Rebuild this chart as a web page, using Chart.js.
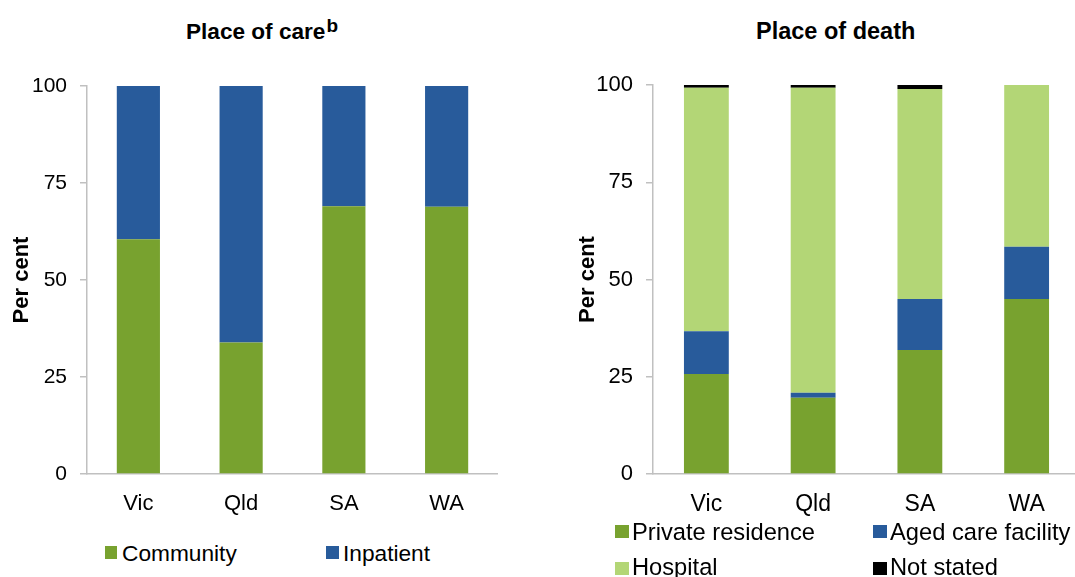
<!DOCTYPE html>
<html>
<head>
<meta charset="utf-8">
<script src="https://cdn.jsdelivr.net/npm/chart.js@4.4.1/dist/chart.umd.min.js"></script>
<style>
  html, body { margin:0; padding:0; background:#fff; }
  body { width:1075px; height:577px; overflow:hidden; position:relative; font-family:"Liberation Sans", Arial, sans-serif; color:#000; }
  canvas { position:absolute; }
  .title { position:absolute; font-weight:bold; line-height:1; white-space:nowrap; }
  .title sup { font-size:19px; position:relative; top:-7px; vertical-align:baseline; margin-left:1px; }
  .sw { position:absolute; }
  .lt { position:absolute; line-height:1; white-space:nowrap; }
</style>
</head>
<body>
<div class="title" id="t1" style="left:186px; top:21px; font-size:22.6px;">Place of care<sup>b</sup></div>
<div class="title" id="t2" style="left:756px; top:20px; font-size:23.5px;">Place of death</div>
<canvas id="c1" width="498" height="524" style="left:0; top:0; width:498px; height:524px;"></canvas>
<canvas id="c2" width="514" height="524" style="left:566px; top:0; width:514px; height:524px;"></canvas>
<div id="legends"></div>
<script>
const categories = ['Vic', 'Qld', 'SA', 'WA'];
const yTickValues = [0, 25, 50, 75, 100];

// Place of care (per cent)
const careCommunity = [60.5, 33.9, 69.0, 68.9];
const careInpatient = [39.5, 66.1, 31.0, 31.1];

// Place of death (per cent)
const deathPrivate   = [25.7, 19.6, 31.9, 45.0];
const deathAged      = [11.0, 1.3, 13.1, 13.4];
const deathHospital  = [62.6, 78.4, 54.0, 41.6];
const deathNotStated = [0.7, 0.7, 1.0, 0];

const careLabels  = ['Community', 'Inpatient'];
const deathLabels = ['Private residence', 'Aged care facility', 'Hospital', 'Not stated'];

const GREEN = '#78A22F', BLUE = '#285B9B', LIGHT = '#B3D676', BLACK = '#000000';
const FONT = '"Liberation Sans", Arial, sans-serif';
const AXIS = '#c0c0c0';

function makeOptions(tickSize, xSize, top) {
  return {
    responsive: false,
    animation: false,
    maintainAspectRatio: false,
    layout: { padding: { top: top, left: 0, right: 0, bottom: 0 } },
    plugins: { legend: { display: false }, tooltip: { enabled: false }, title: { display: false } },
    datasets: { bar: { categoryPercentage: 1.0, barPercentage: 0.42, borderWidth: 0 } },
    scales: {
      x: {
        stacked: true,
        grid: { display: false, drawTicks: false },
        border: { display: true, color: AXIS, width: 1.5 },
        ticks: { color: '#000', padding: 17, font: { family: FONT, size: xSize } },
        afterFit: s => { s.height = 50; }
      },
      y: {
        stacked: true, min: 0, max: 100,
        afterBuildTicks: s => { s.ticks = yTickValues.map(v => ({ value: v })); },
        grid: { drawOnChartArea: false, tickLength: 7, color: AXIS, lineWidth: 1.5 },
        border: { display: true, color: AXIS, width: 1.5 },
        ticks: { color: '#000', padding: 13, font: { family: FONT, size: tickSize } },
        title: { display: true, text: 'Per cent', color: '#000', padding: { top: 9, bottom: 0 },
                 font: { family: FONT, size: 22, weight: 'bold' } },
        afterFit: s => { s.width = 87; }
      }
    }
  };
}

new Chart(document.getElementById('c1'), {
  type: 'bar',
  data: {
    labels: categories,
    datasets: [
      { label: careLabels[0], data: careCommunity, backgroundColor: GREEN },
      { label: careLabels[1], data: careInpatient, backgroundColor: BLUE }
    ]
  },
  options: makeOptions(21, 22, 86)
});

new Chart(document.getElementById('c2'), {
  type: 'bar',
  data: {
    labels: categories,
    datasets: [
      { label: deathLabels[0], data: deathPrivate, backgroundColor: GREEN },
      { label: deathLabels[1], data: deathAged, backgroundColor: BLUE },
      { label: deathLabels[2], data: deathHospital, backgroundColor: LIGHT },
      { label: deathLabels[3], data: deathNotStated, backgroundColor: BLACK }
    ]
  },
  options: makeOptions(22, 23, 85)
});

// HTML legends built from the series labels/colours
const legendHost = document.getElementById('legends');
function addLegend(label, color, sx, sy, sw, sh, tx, ty, size) {
  const s = document.createElement('div');
  s.className = 'sw';
  s.style.cssText = `left:${sx}px;top:${sy}px;width:${sw}px;height:${sh}px;background:${color};`;
  const t = document.createElement('div');
  t.className = 'lt';
  t.style.cssText = `left:${tx}px;top:${ty}px;font-size:${size}px;`;
  t.textContent = label;
  legendHost.appendChild(s);
  legendHost.appendChild(t);
}
addLegend(careLabels[0], GREEN, 105, 546, 12, 13, 122, 542, 22.7);
addLegend(careLabels[1], BLUE, 326, 546, 13, 13, 343, 542, 22.7);
addLegend(deathLabels[0], GREEN, 615, 525, 14, 13, 632, 521, 23.7);
addLegend(deathLabels[1], BLUE, 873, 525, 14, 13, 890, 521, 23.7);
addLegend(deathLabels[2], LIGHT, 615, 562, 14, 13, 632, 556, 23.7);
addLegend(deathLabels[3], BLACK, 873, 562, 14, 13, 890, 556, 23.7);
</script>
</body>
</html>
